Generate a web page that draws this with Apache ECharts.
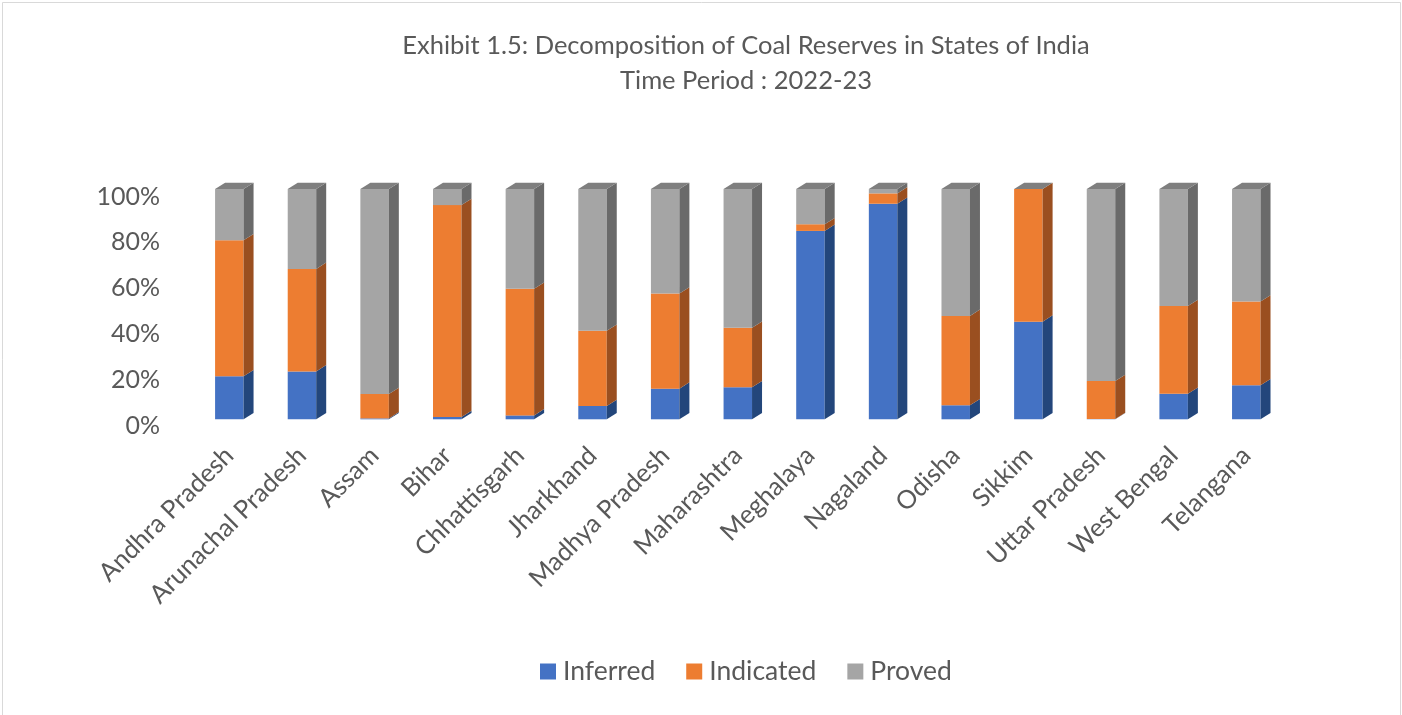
<!DOCTYPE html>
<html>
<head>
<meta charset="utf-8">
<script src="https://cdn.jsdelivr.net/npm/echarts@6/dist/echarts.min.js"></script>
<style>html,body{margin:0;padding:0;background:#fff;}#c{width:1402px;height:715px;}</style>
</head>
<body>
<div id="c"></div>
<script>
const categories = ['Andhra Pradesh','Arunachal Pradesh','Assam','Bihar','Chhattisgarh','Jharkhand','Madhya Pradesh','Maharashtra','Meghalaya','Nagaland','Odisha','Sikkim','Uttar Pradesh','West Bengal','Telangana'];
const inferred  = [18.7, 20.8, 0.4, 1.0, 1.7, 5.8, 13.3, 13.9, 81.8, 93.6, 6.1, 42.4, 0.1, 11.1, 14.8];
const indicated = [59.0, 44.5, 10.6, 92.0, 55.0, 32.6, 41.3, 25.8, 2.9, 4.5, 38.8, 57.6, 16.5, 38.1, 36.3];
const proved    = [22.3, 34.7, 89.0, 7.0, 43.3, 61.6, 45.4, 60.3, 15.3, 1.9, 55.1, 0.0, 83.4, 50.8, 48.9];
const yTicks = [0, 20, 40, 60, 80, 100];

const seriesDefs = [
  {name:'Inferred', values: inferred, front:'#4472C4', side:'#23467B', top:'#3A64AE'},
  {name:'Indicated', values: indicated, front:'#ED7D31', side:'#9A4F20', top:'#C96A2A'},
  {name:'Proved', values: proved, front:'#A5A5A5', side:'#6A6A6A', top:'#7F7F7F'}
];

const DX = 10, DY = 6.3;
const base = categories.map(() => 0);
const series = seriesDefs.map((s, si) => {
  const data = s.values.map((v, i) => {
    const b = base[i];
    base[i] = b + v;
    return [i, b, b + v];
  });
  const isLast = si === seriesDefs.length - 1;
  return {
    type: 'custom',
    name: s.name,
    xAxisIndex: 0, yAxisIndex: 0,
    itemStyle: {color: s.front},
    z: 2 + si,
    data: data,
    renderItem: function (params, api) {
      const x = api.value(0), y0 = api.value(1), y1 = api.value(2);
      const pb = api.coord([x, y0]);
      const pt = api.coord([x, y1]);
      const w = api.size([1, 0])[0] * 0.392;
      const xl = pb[0] - w / 2, xr = pb[0] + w / 2;
      const yb = pb[1], yt = pt[1];
      const children = [];
      if (yb - yt > 0.01) {
        children.push({type:'rect', shape:{x:xl, y:yt, width:w, height:yb-yt}, style:{fill:s.front}});
        children.push({type:'polygon', shape:{points:[[xr,yt],[xr+DX,yt-DY],[xr+DX,yb-DY],[xr,yb]]}, style:{fill:s.side}});
      }
      if (isLast) {
        children.push({type:'polygon', shape:{points:[[xl,yt],[xl+DX,yt-DY],[xr+DX,yt-DY],[xr,yt]]}, style:{fill:s.top}});
      }
      return {type:'group', children: children};
    }
  };
});

const chart = echarts.init(document.getElementById('c'), null, {renderer:'canvas'});
chart.setOption({
  backgroundColor:'#ffffff',
  animation:false,
  textStyle:{fontFamily:'Lato'},
  title:{
    text:'Exhibit 1.5: Decomposition of Coal Reserves in States of India\nTime Period : 2022-23',
    left:741, textAlign:'center', top:23,
    textStyle:{fontFamily:'Lato', fontSize:25.5, fontWeight:'normal', color:'#595959', lineHeight:35}
  },
  legend:{
    data: seriesDefs.map(s => s.name),
    bottom:30, left:540,
    icon:'rect', itemWidth:16, itemHeight:16, itemGap:31, itemPadding:0, padding:0,
    textStyle:{fontFamily:'Lato', fontSize:26.5, color:'#595959', padding:[0,0,0,2]}
  },
  graphic:[{type:'rect', shape:{x:2.5, y:2.5, width:1398, height:730}, style:{fill:'none', stroke:'#d9d9d9', lineWidth:1}, silent:true, z:-10}],
  grid:[
    {left:193, right:119.4, top:189, bottom:295.7},
    {left:193, right:119.4, top:196.5, bottom:289.5}
  ],
  xAxis:[
    {type:'category', gridIndex:0, data:categories,
     axisLine:{show:false}, axisTick:{show:false}, splitLine:{show:false},
     axisLabel:{interval:0, rotate:45, margin:32, fontFamily:'Lato', fontSize:25.5, color:'#595959'}},
    {type:'category', gridIndex:1, data:categories, show:false}
  ],
  yAxis:[
    {type:'value', gridIndex:0, min:0, max:100, interval:20, show:false},
    {type:'value', gridIndex:1, min:0, max:100, interval:20,
     axisLine:{show:false}, axisTick:{show:false}, splitLine:{show:false},
     axisLabel:{margin:33, fontFamily:'Lato', fontSize:25, color:'#595959',
       customValues: yTicks, formatter: v => v + '%'}}
  ],
  series: series
});
</script>
</body>
</html>
